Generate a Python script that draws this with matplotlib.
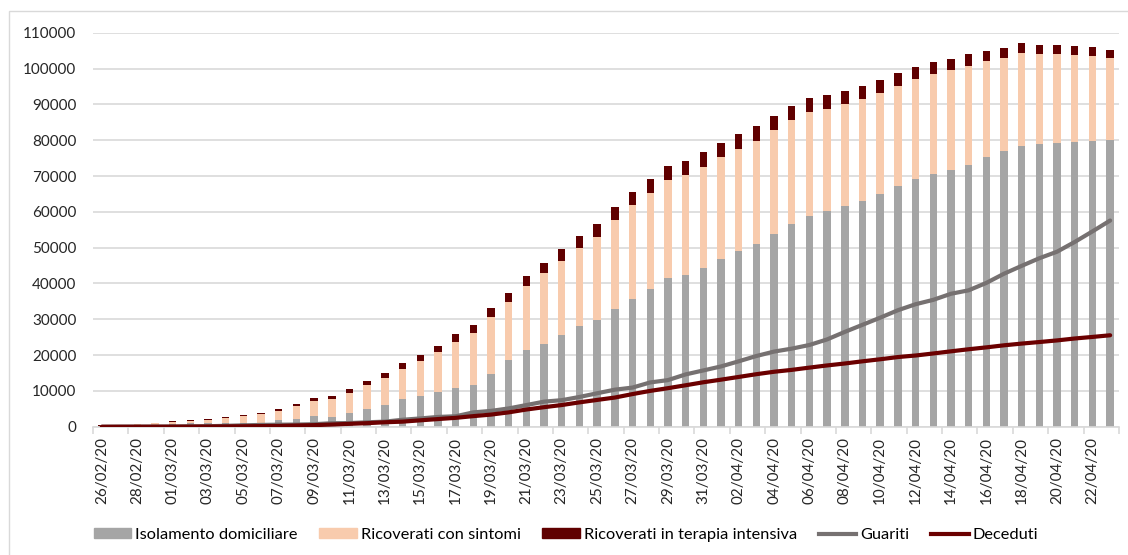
import matplotlib.pyplot as plt
import matplotlib.patches as mpatches
from matplotlib.lines import Line2D
from matplotlib.ticker import FixedLocator
import pandas as pd

# Days from 26/02/20 to 23/04/20
dates = pd.date_range('2020-02-26', '2020-04-23', freq='D')
date_labels = [d.strftime('%d/%m/%y') for d in dates]

isolamento = [221, 284, 412, 543,
              798, 927, 1000, 1065, 1155, 1060, 1843, 2180, 2936, 2599, 3724, 5036, 6201, 7800, 8600,
              9800, 10900, 11800, 14800, 18700, 21500, 23000, 25700, 28000, 29900, 32900, 35800, 38600,
              41500, 42400, 44400,
              46900, 49100, 51100, 53700, 56700, 58800, 60100, 61500, 63100, 65000, 67100, 69300, 70500,
              71600, 73200, 75200, 76900, 78500, 79000, 79100, 79600, 79800, 80000]
ricoverati = [128, 248, 345, 401,
              639, 742, 1034, 1346, 1790, 2394, 2651, 3557, 4316, 5038, 5838, 6650, 7426, 8372, 9663,
              11025, 12894, 14363, 15757, 16020, 17708, 19846, 20692, 21937, 23112, 24753, 26029, 26676,
              27386, 27795, 28192,
              28403, 28540, 28741, 29010, 28949, 28976, 28718, 28485, 28399, 28242, 28144, 27847, 28023,
              28011, 27643, 26893, 26033, 25786, 25007, 24906, 24134, 23805, 22871]
terapia_intensiva = [36, 56, 64, 105,
                     140, 166, 229, 295, 351, 462, 567, 650, 733, 877, 1028, 1153, 1328, 1518, 1672,
                     1851, 2060, 2257, 2498, 2655, 2857, 3009, 3204, 3396, 3489, 3612, 3732, 3856,
                     3906, 3981, 4023,
                     4035, 4053, 4068, 3994, 3977, 3898, 3792, 3693, 3605, 3497, 3381, 3343, 3260,
                     3186, 3079, 2936, 2812, 2733, 2635, 2573, 2471, 2384, 2267]
guariti = [3, 45, 46, 50,
           83, 149, 160, 276, 414, 523, 589, 622, 724, 1004, 1045, 1258, 1439, 1966, 2335,
           2749, 2941, 4025, 4440, 5129, 6072, 7024, 7432, 8326, 9362, 10361, 10950, 12384,
           13030, 14620, 15729,
           16847, 18278, 19758, 20996, 21815, 22837, 24392, 26491, 28470, 30455, 32534, 34211, 35435,
           37130, 38092, 40164, 42727, 44927, 47055, 48877, 51600, 54543, 57576]
deceduti = [12, 17, 21, 29,
            34, 52, 79, 107, 148, 197, 233, 366, 463, 631, 827, 1016, 1266, 1441, 1809,
            2158, 2503, 2978, 3405, 4032, 4825, 5476, 6077, 6820, 7503, 8165, 9134, 10023,
            10779, 11591, 12428,
            13155, 13915, 14681, 15362, 15887, 16523, 17127, 17669, 18279, 18849, 19468, 19899, 20465,
            21067, 21645, 22170, 22745, 23227, 23660, 24114, 24648, 25085, 25549]

c_iso = '#a5a5a5'
c_ric = '#f8cbad'
c_ti = '#600000'
c_gua = '#767171'
c_dec = '#6b0000'
grid_c = '#d9d9d9'

plt.rcParams['font.family'] = ['Lato', 'DejaVu Sans']
plt.rcParams['font.size'] = 11

fig = plt.figure(figsize=(11.28, 5.55), dpi=100)
ax = fig.add_axes([93 / 1128, 1 - 426.8 / 555, (1119 - 93) / 1128, (426.8 - 32.7) / 555])

# light frame around the whole chart area
fig.patches.append(mpatches.Rectangle((9 / 1128, -0.01), 1.2, 1 - 11 / 555 + 0.01,
                                      transform=fig.transFigure, fill=False,
                                      edgecolor=grid_c, lw=1))

x = list(range(len(dates)))
base2 = [a + b for a, b in zip(isolamento, ricoverati)]
w = 0.42
ax.bar(x, isolamento, w, color=c_iso, zorder=2)
ax.bar(x, ricoverati, w, bottom=isolamento, color=c_ric, zorder=2)
ax.bar(x, terapia_intensiva, w, bottom=base2, color=c_ti, zorder=2)
ax.plot(x, guariti, color=c_gua, lw=3, zorder=3, solid_capstyle='round')
ax.plot(x, deceduti, color=c_dec, lw=3, zorder=4, solid_capstyle='round')

ax.set_xlim(-0.5, len(dates) - 0.5)
ax.set_ylim(0, 110000)
ax.set_yticks(range(0, 110001, 10000))
ax.yaxis.grid(True, color=grid_c, lw=1.2, zorder=0)
ax.set_axisbelow(True)

ax.set_xticks(x[::2])
ax.set_xticklabels(date_labels[::2], rotation=90, va='top', ha='center')
ax.xaxis.set_minor_locator(FixedLocator([i - 0.5 for i in range(0, len(dates) + 1, 2)]))
ax.tick_params(axis='x', which='major', length=0, pad=7, colors='#262626')
ax.tick_params(axis='x', which='minor', length=5, color=grid_c, width=1.2)
ax.tick_params(axis='y', length=0, pad=12, colors='#262626')

for s in ['top', 'right', 'left']:
    ax.spines[s].set_visible(False)
ax.spines['bottom'].set_color(grid_c)
ax.spines['bottom'].set_linewidth(1.2)

handles = [mpatches.Patch(color=c_iso, label='Isolamento domiciliare'),
           mpatches.Patch(color=c_ric, label='Ricoverati con sintomi'),
           mpatches.Patch(color=c_ti, label='Ricoverati in terapia intensiva'),
           Line2D([], [], color=c_gua, lw=3, label='Guariti'),
           Line2D([], [], color=c_dec, lw=3, label='Deceduti')]
fig.legend(handles=handles, loc='center', bbox_to_anchor=(566 / 1128, 1 - 535 / 555), ncol=5,
           frameon=False, handlelength=2.3, handleheight=0.6, handletextpad=0.25,
           columnspacing=1.3, fontsize=11.8)

plt.savefig('out.png', dpi=100)
